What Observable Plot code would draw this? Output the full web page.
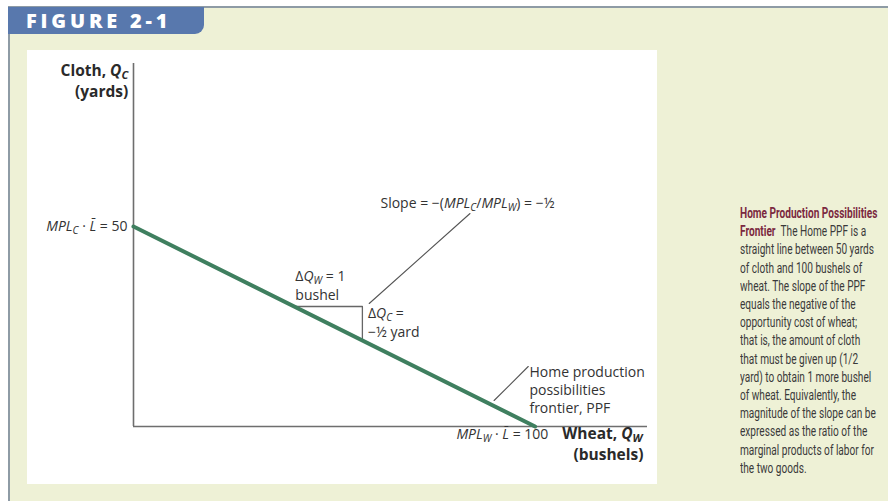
<!DOCTYPE html>
<html>
<head>
<meta charset="utf-8">
<script src="https://cdn.jsdelivr.net/npm/d3@7"></script>
<script src="https://cdn.jsdelivr.net/npm/@observablehq/plot@0.6"></script>
<style>
  body { margin: 0; background: #fff; }
  #wrap { position: relative; width: 888px; height: 501px; overflow: hidden; background: #fff; }
  .abs { position: absolute; }
  #caption { font-family: Roboto, "Open Sans", sans-serif; font-size: 14px; color: #3a3a3a; line-height: 18.2px; white-space: nowrap; transform-origin: 0 0; }
  #caption b { color: #7b2940; font-weight: bold; }
</style>
</head>
<body>
<div id="wrap">
  <div class="abs" style="left:9px;top:8px;right:0;bottom:0;background:#eef1d6"></div>
  <div class="abs" style="left:8px;top:6px;right:0;height:2px;background:#8e9ba5"></div>
  <div class="abs" style="left:8px;top:6px;width:2px;bottom:0;background:#8e9ba5"></div>
  <div class="abs" style="left:8px;top:7px;width:196px;height:27px;background:#5878ad;border-bottom-right-radius:9px;"></div>
  <div class="abs" id="tab" style="left:26px;top:7px;height:27px;line-height:28px;color:#fff;font-family:'Open Sans',sans-serif;font-weight:800;font-size:20px;letter-spacing:3.8px;">FIGURE 2-1</div>
  <div class="abs" style="left:27px;top:50px;width:630px;height:434px;background:#fff"></div>
  <div class="abs" id="chart" style="left:0;top:0"></div>
  <div class="abs" id="caption" style="left:740px;top:204px"></div>
</div>
<script>
// ---- data ----
const ppfWheat = [0, 100];           // bushels
const ppfCloth = [50, 0];            // yards
const xMax = 128, yMax = 90.75;
const triWheat = [40, 57, 57];
const triCloth = [30, 30, 21.5];
const slopeLeaderWheat = [58.7, 83.8];
const slopeLeaderCloth = [30.75, 53.25];
const ppfLeaderWheat = [98.3, 89.8];
const ppfLeaderCloth = [15, 6.5];

const axisTitles = [
  {x: -1.3, y: 88.8, text: "Cloth, *Q*_C", anchor: "end"},
  {x: -1.3, y: 83.6, text: "(yards)", anchor: "end"},
  {x: 106.8, y: -1.9, text: "Wheat, *Q*_W", anchor: "start"},
  {x: 127, y: -7.1, text: "(bushels)", anchor: "end"}
];
const annotations = [
  {x: -1.5, y: 50, text: "*MPL*_C · *L̄* = 50", anchor: "end"},
  {x: 103.3, y: -1.9, text: "*MPL*_W · *L̄* = 100", anchor: "end"},
  {x: 61.5, y: 55.8, text: "Slope = −(*MPL*_C/*MPL*_W) = −½", anchor: "start"},
  {x: 40.3, y: 37.4, text: "Δ*Q*_W = 1", anchor: "start"},
  {x: 40.3, y: 32.8, text: "bushel", anchor: "start"},
  {x: 58.4, y: 28.2, text: "Δ*Q*_C =", anchor: "start"},
  {x: 58.4, y: 23.5, text: "−½ yard", anchor: "start"},
  {x: 98.6, y: 13.5, text: "Home production", anchor: "start"},
  {x: 98.6, y: 9.0, text: "possibilities", anchor: "start"},
  {x: 98.6, y: 4.5, text: "frontier, PPF", anchor: "start"}
];
const captionTitle = ["Home Production Possibilities", "Frontier"];
const captionLines = [
  "The Home PPF is a",
  "straight line between 50 yards",
  "of cloth and 100 bushels of",
  "wheat. The slope of the PPF",
  "equals the negative of the",
  "opportunity cost of wheat;",
  "that is, the amount of cloth",
  "that must be given up (1/2",
  "yard) to obtain 1 more bushel",
  "of wheat. Equivalently, the",
  "magnitude of the slope can be",
  "expressed as the ratio of the",
  "marginal products of labor for",
  "the two goods."
];

// ---- chart ----
const ppf = ppfWheat.map((w, i) => ({w, c: ppfCloth[i]}));
const tri = triWheat.map((w, i) => ({w, c: triCloth[i]}));
const sl = slopeLeaderWheat.map((w, i) => ({w, c: slopeLeaderCloth[i]}));
const pl = ppfLeaderWheat.map((w, i) => ({w, c: ppfLeaderCloth[i]}));

const labelFont = "'Open Sans', sans-serif";
const textMarks = [];
for (const anchor of ["start", "end"]) {
  textMarks.push(Plot.text(axisTitles.filter(d => d.anchor === anchor), {x: "x", y: "y", text: "text", textAnchor: anchor, fontSize: 15.5, fontWeight: "bold", fill: "#2a2a2a", fontFamily: labelFont, className: "rich"}));
  textMarks.push(Plot.text(annotations.filter(d => d.anchor === anchor), {x: "x", y: "y", text: "text", textAnchor: anchor, fontSize: 14, fill: "#333", fontFamily: labelFont, className: "rich"}));
}

const chart = Plot.plot({
  width: 888,
  height: 501,
  marginLeft: 133,
  marginRight: 241,
  marginTop: 63,
  marginBottom: 75,
  style: {background: "transparent", overflow: "visible"},
  x: {domain: [0, xMax], axis: null},
  y: {domain: [0, yMax], axis: null},
  marks: [
    Plot.ruleX([0], {y1: 0, y2: yMax, stroke: "#6e6e6e", strokeWidth: 1.6}),
    Plot.ruleY([0], {x1: 0, x2: xMax, stroke: "#6e6e6e", strokeWidth: 1.6}),
    Plot.line(tri, {x: "w", y: "c", stroke: "#666", strokeWidth: 1.3}),
    Plot.line(sl, {x: "w", y: "c", stroke: "#555", strokeWidth: 1.1}),
    Plot.line(pl, {x: "w", y: "c", stroke: "#555", strokeWidth: 1.1}),
    Plot.line(ppf, {x: "w", y: "c", stroke: "#3f7f5f", strokeWidth: 4}),
    ...textMarks
  ]
});

function rich(el) {
  const s = el.textContent;
  el.textContent = "";
  let italic = false, buf = "", reset = false;
  const ns = "http://www.w3.org/2000/svg";
  const add = (str, it, sub) => {
    const t = document.createElementNS(ns, "tspan");
    t.textContent = str;
    if (it) t.setAttribute("font-style", "italic");
    if (sub) { t.setAttribute("dy", "3"); t.setAttribute("font-size", "72%"); reset = true; }
    else if (reset) { t.setAttribute("dy", "-3"); reset = false; }
    el.appendChild(t);
  };
  const flush = () => { if (buf) { add(buf, italic, false); buf = ""; } };
  for (let i = 0; i < s.length; i++) {
    const c = s[i];
    if (c === "*") { flush(); italic = !italic; }
    else if (c === "_") { flush(); add(s[i + 1], true, true); i++; }
    else buf += c;
  }
  flush();
}
chart.querySelectorAll("g.rich text").forEach(rich);
document.getElementById("chart").appendChild(chart);

// ---- caption ----
const cap = document.getElementById("caption");
cap.innerHTML = "<div><span><b>" + captionTitle[0] + "</b></span></div><div><span><b>" + captionTitle[1] + "</b>&nbsp;&nbsp;" + captionLines[0] + "</span></div>" +
  captionLines.slice(1).map(l => "<div><span>" + l + "</span></div>").join("");
// condense horizontally so the reference line "straight line between 50 yards" spans ~134px
const probe = cap.querySelectorAll("span")[2];
const sc = 134 / probe.getBoundingClientRect().width;
cap.style.transform = "scaleX(" + sc.toFixed(3) + ")";
</script>
</body>
</html>
